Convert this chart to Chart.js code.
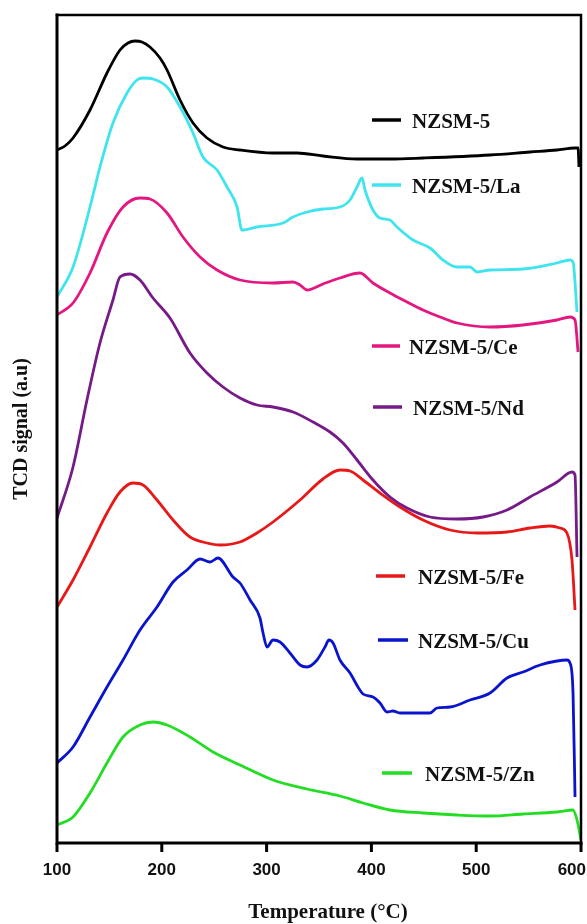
<!DOCTYPE html>
<html>
<head>
<meta charset="utf-8">
<title>TPD profiles of NZSM-5 catalysts</title>
<style>
  html, body { margin: 0; padding: 0; background: #ffffff; overflow: hidden; }
  #wrap { width: 587px; height: 924px; position: relative; }
</style>
<script src="https://cdn.jsdelivr.net/npm/chart.js@4/dist/chart.umd.min.js"></script>
</head>
<body>
<div id="wrap"><canvas id="tcd"></canvas></div>
<script>
// Temperature axis ticks (°C)
const xTicks = [100, 200, 300, 400, 500, 600];

// NZSM-5
const nzsmT = [100,107.6,115.3,131.5,147.7,160.1,167.7,174.4,181.1,188.7,198.3,205.0,217.4,229.8,243.1,258.4,274.6,306.1,329.0,353.8,386.3,417.7,449.2,513.2,551.3,577.1,594.3,597.2,598.1];
const nzsmSignal = [693,697,705,733,770,793,800,802,801,796,785,773,743,720,705,696,693,690,690,687,684,684,685,688,691,693,695,695,676];

// NZSM-5/La
const laT = [100,115.3,131.5,141.0,153.4,166.8,176.3,182.1,191.6,205.0,217.4,229.8,239.3,252.7,262.2,271.8,276.5,290.8,315.7,325.2,338.6,353.8,370.0,379.6,386.3,391.0,393.9,401.5,408.2,417.7,424.4,439.7,455.9,468.3,481.7,494.1,500.8,513.2,544.7,577.1,589.5,592.4,596.2];
const laSignal = [546,576,636,676,720,750,763,765,764,756,736,710,686,673,656,636,613,616,620,626,631,634,636,643,656,665,653,633,625,623,616,603,595,583,576,576,571,573,574,580,583,581,531];

// NZSM-5/Ce
const ceT = [100,115.3,131.5,147.7,163.0,179.2,188.7,205.0,220.2,236.5,252.7,274.6,306.1,325.2,331.9,338.6,353.8,370.0,389.1,401.5,417.7,434.0,449.2,465.5,481.7,513.2,544.7,577.1,589.5,594.3,597.2];
const ceSignal = [528,540,570,610,636,645,644,630,606,586,573,563,560,561,558,553,559,565,570,560,550,541,533,526,520,516,518,523,526,523,491];

// NZSM-5/Nd
const ndT = [100,115.3,128.6,141.0,153.4,160.1,169.7,179.2,191.6,207.8,226.9,243.1,258.4,274.6,290.8,306.1,325.2,344.3,360.5,372.9,386.3,401.5,417.7,434.0,455.9,481.7,506.5,529.4,551.3,577.1,591.4,594.3,596.2];
const ndSignal = [325,376,443,500,543,566,569,563,545,525,490,470,456,445,438,436,431,421,411,400,383,363,346,335,326,324,326,333,346,361,371,368,286];

// NZSM-5/Fe
const feT = [100,115.3,131.5,147.7,160.1,172.5,182.1,195.4,210.7,226.9,243.1,255.5,274.6,290.8,306.1,331.9,353.8,370.0,379.6,392.0,408.2,427.3,449.2,475.0,500.8,529.4,551.3,570.4,580.0,586.6,591.4,594.3];
const feSignal = [236,263,296,330,351,360,358,343,323,306,300,298,301,310,321,343,364,373,372,363,350,336,323,313,310,311,315,317,315,310,283,233];

// NZSM-5/Cu
const cuT = [100,115.3,131.5,147.7,163.0,179.2,195.4,210.7,224.0,236.5,246.0,253.6,267.9,274.6,284.2,293.7,296.6,300.4,306.1,312.8,322.3,331.9,338.6,348.1,355.7,359.5,363.4,370.0,379.6,387.2,392.0,401.5,408.2,414.9,420.6,427.3,455.9,462.6,475.0,494.1,513.2,529.4,544.7,560.9,577.1,586.6,589.5,592.4,594.3];
const cuSignal = [80,96,126,156,183,213,236,261,273,284,281,285,266,260,243,225,210,196,203,201,190,178,176,183,196,203,200,183,170,156,149,146,140,131,132,130,130,135,136,143,150,165,171,178,182,183,180,150,46];

// NZSM-5/Zn
const znT = [100,115.3,131.5,147.7,163.0,179.2,191.6,205.0,226.9,248.9,274.6,306.1,338.6,370.0,392.0,417.7,449.2,481.7,513.2,544.7,577.1,592.4,596.2,600];
const znSignal = [18,26,50,80,106,118,121,118,106,91,78,63,54,47,40,33,30,28,27,29,31,33,23,3];

const seriesNames = ['NZSM-5','NZSM-5/La','NZSM-5/Ce','NZSM-5/Nd','NZSM-5/Fe','NZSM-5/Cu','NZSM-5/Zn'];
const seriesT = [nzsmT, laT, ceT, ndT, feT, cuT, znT];
const seriesSignal = [nzsmSignal, laSignal, ceSignal, ndSignal, feSignal, cuSignal, znSignal];
const seriesColors = ['#000000','#3fe4ee','#e4167f','#761a88','#e81818','#0a14cc','#22dd22'];

const serif = "'Liberation Serif', 'Times New Roman', serif";
const sans = "'Liberation Sans', Arial, sans-serif";

// Key entries placed beside the curves: line segment start/end, text start, vertical centre
const keyLayout = [
  { x1: 372, x2: 401, tx: 412, y: 120 },
  { x1: 372, x2: 401, tx: 412, y: 185 },
  { x1: 372, x2: 400, tx: 409, y: 346 },
  { x1: 373, x2: 402, tx: 413, y: 407 },
  { x1: 376, x2: 405, tx: 418, y: 576 },
  { x1: 378, x2: 408, tx: 418, y: 640 },
  { x1: 382, x2: 412, tx: 425, y: 773 }
];

// Frame, bottom ticks and axis titles
const framePlugin = {
  id: 'frame',
  afterDatasetsDraw(chart) {
    const { ctx, chartArea: a, scales } = chart;
    const xs = scales.x;
    ctx.save();
    ctx.strokeStyle = '#000';
    ctx.lineCap = 'square';
    // top and right borders
    ctx.lineWidth = 2.5;
    ctx.beginPath();
    ctx.moveTo(a.left, a.top);
    ctx.lineTo(a.right, a.top);
    ctx.lineTo(a.right, a.bottom);
    ctx.stroke();
    // left and bottom axes
    ctx.lineWidth = 3;
    ctx.beginPath();
    ctx.moveTo(a.left, a.top);
    ctx.lineTo(a.left, a.bottom);
    ctx.lineTo(a.right, a.bottom);
    ctx.stroke();
    // tick marks and labels
    ctx.lineCap = 'butt';
    ctx.fillStyle = '#111';
    ctx.font = 'bold 17px ' + sans;
    ctx.textAlign = 'center';
    ctx.textBaseline = 'alphabetic';
    const W = chart.width;
    xTicks.forEach(t => {
      const px = xs.getPixelForValue(t);
      ctx.beginPath();
      ctx.moveTo(px, a.bottom);
      ctx.lineTo(px, a.bottom + 9);
      ctx.stroke();
      const label = String(t);
      const w = ctx.measureText(label).width;
      const lx = Math.min(px, W - w / 2 - 1);
      ctx.fillText(label, lx, a.bottom + 32);
    });
    // x title
    ctx.font = 'bold 21px ' + serif;
    ctx.fillText('Temperature (°C)', (a.left + a.right) / 2 + 9, 918);
    // y title
    ctx.save();
    ctx.translate(27, (a.top + a.bottom) / 2 + 0);
    ctx.rotate(-Math.PI / 2);
    ctx.font = 'bold 20px ' + serif;
    ctx.textAlign = 'center';
    ctx.fillText('TCD signal (a.u)', 0, 0);
    ctx.restore();
    ctx.restore();
  }
};

// Series key drawn next to each curve
const keyPlugin = {
  id: 'seriesKey',
  afterDraw(chart) {
    const { ctx } = chart;
    ctx.save();
    chart.data.datasets.forEach((ds, i) => {
      const k = keyLayout[i];
      ctx.strokeStyle = ds.borderColor;
      ctx.lineWidth = 3.5;
      ctx.beginPath();
      ctx.moveTo(k.x1, k.y);
      ctx.lineTo(k.x2, k.y);
      ctx.stroke();
      ctx.fillStyle = '#111';
      ctx.font = 'bold 21px ' + serif;
      ctx.textAlign = 'left';
      ctx.textBaseline = 'alphabetic';
      ctx.fillText(ds.label, k.tx, k.y + 8);
    });
    ctx.restore();
  }
};

const datasets = seriesNames.map((name, i) => ({
  label: name,
  data: seriesT[i].map((t, j) => ({ x: t, y: seriesSignal[i][j] })),
  borderColor: seriesColors[i],
  backgroundColor: seriesColors[i],
  borderWidth: 2.8,
  pointRadius: 0,
  fill: false,
  cubicInterpolationMode: 'monotone'
}));

new Chart(document.getElementById('tcd'), {
  type: 'line',
  data: { datasets },
  options: {
    responsive: true,
    maintainAspectRatio: false,
    animation: false,
    events: [],
    layout: { padding: { left: 57, right: 6, top: 15, bottom: 81 } },
    scales: {
      x: { type: 'linear', min: 100, max: 600, display: false },
      y: { type: 'linear', min: 0, max: 828, display: false }
    },
    plugins: { legend: { display: false }, tooltip: { enabled: false } }
  },
  plugins: [framePlugin, keyPlugin]
});
</script>
</body>
</html>
